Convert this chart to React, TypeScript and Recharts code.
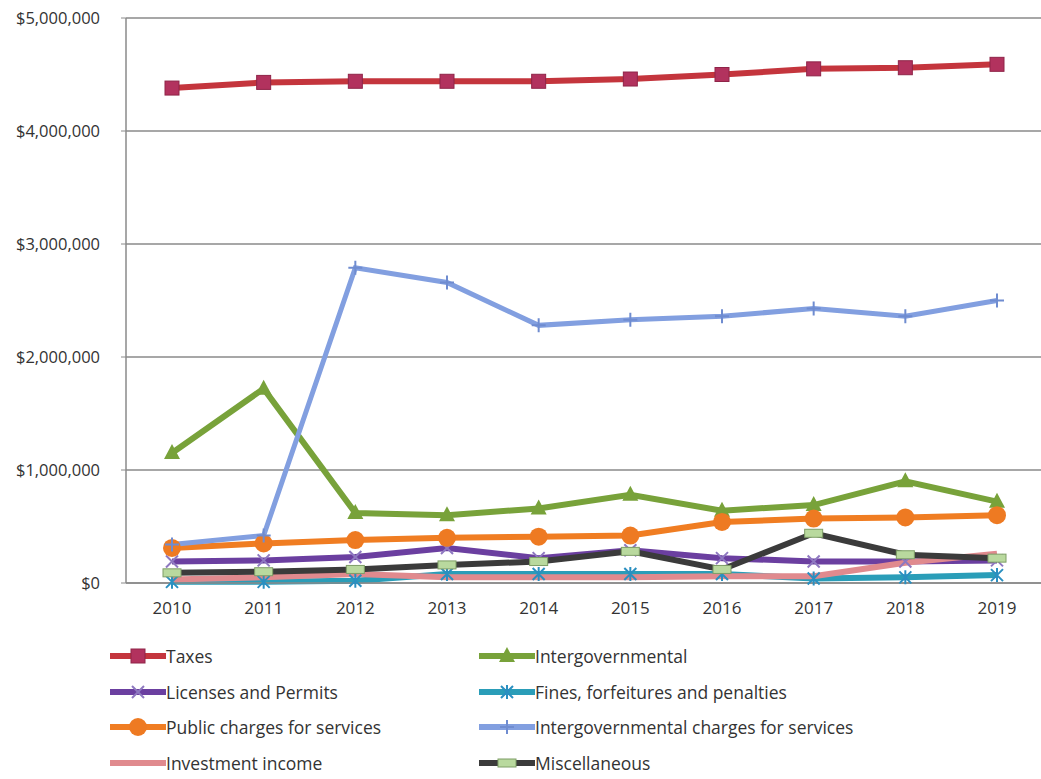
import { LineChart, Line, XAxis, YAxis, CartesianGrid } from 'recharts';

const years = ['2010', '2011', '2012', '2013', '2014', '2015', '2016', '2017', '2018', '2019'];
const taxes = [4380000, 4430000, 4440000, 4440000, 4440000, 4460000, 4500000, 4550000, 4560000, 4590000];
const intergovernmental = [1150000, 1720000, 620000, 600000, 660000, 780000, 640000, 690000, 900000, 720000];
const licenses = [190000, 200000, 230000, 310000, 220000, 290000, 220000, 190000, 190000, 200000];
const fines = [10000, 10000, 20000, 80000, 80000, 80000, 80000, 40000, 50000, 70000];
const publicCharges = [310000, 350000, 380000, 400000, 410000, 420000, 540000, 570000, 580000, 600000];
const intergovCharges = [340000, 420000, 2790000, 2660000, 2280000, 2330000, 2360000, 2430000, 2360000, 2500000];
const investment = [30000, 50000, 80000, 50000, 50000, 50000, 60000, 60000, 180000, 260000];
const misc = [90000, 100000, 120000, 160000, 190000, 280000, 120000, 440000, 250000, 220000];
const yTicks = [0, 1000000, 2000000, 3000000, 4000000, 5000000];

type MarkerKind = 'square' | 'triangle' | 'x' | 'star' | 'circle' | 'plus' | 'none' | 'bar';

interface SeriesDef {
  key: string;
  name: string;
  values: number[];
  color: string;
  marker: MarkerKind;
  markerFill: string;
  width: number;
}

const series: SeriesDef[] = [
  { key: 'taxes', name: 'Taxes', values: taxes, color: '#C4353D', marker: 'square', markerFill: '#B2325E', width: 6 },
  { key: 'intergov', name: 'Intergovernmental', values: intergovernmental, color: '#78A23A', marker: 'triangle', markerFill: '#78A23A', width: 6 },
  { key: 'licenses', name: 'Licenses and Permits', values: licenses, color: '#6B3FA0', marker: 'x', markerFill: '#8E78C0', width: 6 },
  { key: 'fines', name: 'Fines, forfeitures and penalties', values: fines, color: '#2A9DB8', marker: 'star', markerFill: '#2A8FC0', width: 6 },
  { key: 'public', name: 'Public charges for services', values: publicCharges, color: '#F07D22', marker: 'circle', markerFill: '#EE7A22', width: 6 },
  { key: 'igcharges', name: 'Intergovernmental charges for services', values: intergovCharges, color: '#829FE0', marker: 'plus', markerFill: '#6F8CD0', width: 5 },
  { key: 'investment', name: 'Investment income', values: investment, color: '#E08A8E', marker: 'none', markerFill: '#E08A8E', width: 6 },
  { key: 'misc', name: 'Miscellaneous', values: misc, color: '#3B3B3B', marker: 'bar', markerFill: '#B9D99E', width: 6 },
];

const data = years.map((year, i) => {
  const row: Record<string, string | number> = { year };
  series.forEach((s) => {
    row[s.key] = s.values[i];
  });
  return row;
});

function formatMoney(v: number) {
  return '$' + v.toLocaleString('en-US');
}

function Marker({ kind, cx, cy, fill }: { kind: MarkerKind; cx: number; cy: number; fill: string }) {
  switch (kind) {
    case 'square':
      return <rect x={cx - 7} y={cy - 7} width={14} height={14} fill={fill} stroke="#8F2448" strokeWidth={1} />;
    case 'triangle':
      return <polygon points={`${cx},${cy - 9} ${cx + 8},${cy + 6} ${cx - 8},${cy + 6}`} fill={fill} />;
    case 'x':
      return (
        <path d={`M${cx - 6},${cy - 6}L${cx + 6},${cy + 6}M${cx + 6},${cy - 6}L${cx - 6},${cy + 6}`} stroke={fill} strokeWidth={2} />
      );
    case 'star':
      return (
        <path
          d={`M${cx - 6},${cy - 6}L${cx + 6},${cy + 6}M${cx + 6},${cy - 6}L${cx - 6},${cy + 6}M${cx},${cy - 7}L${cx},${cy + 7}`}
          stroke={fill}
          strokeWidth={2}
        />
      );
    case 'circle':
      return <circle cx={cx} cy={cy} r={9} fill={fill} />;
    case 'plus':
      return <path d={`M${cx - 7},${cy}L${cx + 7},${cy}M${cx},${cy - 7}L${cx},${cy + 7}`} stroke={fill} strokeWidth={2} />;
    case 'bar':
      return <rect x={cx - 9} y={cy - 4} width={18} height={8} fill={fill} stroke="#7E9E66" strokeWidth={1} />;
    default:
      return null;
  }
}

function makeDot(s: SeriesDef) {
  if (s.marker === 'none') return false;
  return (props: any) => {
    const { cx, cy, index } = props;
    return (
      <g key={`${s.key}-${index}`}>
        <Marker kind={s.marker} cx={cx} cy={cy} fill={s.markerFill} />
      </g>
    );
  };
}

function LegendItem({ s }: { s: SeriesDef }) {
  return (
    <div style={{ display: 'flex', alignItems: 'center', height: 22 }}>
      <svg width={56} height={20} style={{ display: 'block' }}>
        <line x1={1} y1={10} x2={55} y2={10} stroke={s.color} strokeWidth={6} strokeLinecap="round" />
        <Marker kind={s.marker} cx={28} cy={10} fill={s.markerFill} />
      </svg>
      <span>{s.name}</span>
    </div>
  );
}

export default function App() {
  const left = series.filter((_, i) => i % 2 === 0);
  const right = series.filter((_, i) => i % 2 === 1);
  return (
    <div
      style={{
        position: 'absolute',
        left: 0,
        top: 0,
        width: 1041,
        height: 779,
        overflow: 'hidden',
        background: '#fff',
        fontFamily: 'Open Sans, sans-serif',
      }}
    >
      <LineChart width={1045} height={779} data={data} margin={{ top: 18, right: 2, bottom: 156, left: 0 }}>
        <CartesianGrid vertical={false} stroke="#8A8A8A" strokeWidth={1.5} />
        <XAxis
          dataKey="year"
          padding={{ left: 46, right: 46 }}
          tick={{ fontSize: 17, fill: '#333' }}
          tickLine={false}
          axisLine={{ stroke: '#8A8A8A', strokeWidth: 1.5 }}
          tickMargin={13}
          height={40}
        />
        <YAxis
          domain={[0, 5000000]}
          ticks={yTicks}
          tickFormatter={formatMoney}
          width={126}
          tick={{ fontSize: 16.5, fill: '#333' }}
          tickSize={5}
          tickMargin={21}
          tickLine={{ stroke: '#8A8A8A' }}
          axisLine={{ stroke: '#8A8A8A', strokeWidth: 1.5 }}
        />
        {series.map((s) => (
          <Line
            key={s.key}
            type="linear"
            dataKey={s.key}
            name={s.name}
            stroke={s.color}
            strokeWidth={s.width}
            dot={makeDot(s)}
            activeDot={false}
            isAnimationActive={false}
          />
        ))}
      </LineChart>
      <div style={{ position: 'absolute', left: 110, top: 645, fontSize: 17.5, color: '#333', display: 'flex', flexDirection: 'column', gap: 13.6 }}>
        {left.map((s) => (
          <LegendItem key={s.key} s={s} />
        ))}
      </div>
      <div style={{ position: 'absolute', left: 479, top: 645, fontSize: 17.5, color: '#333', display: 'flex', flexDirection: 'column', gap: 13.6 }}>
        {right.map((s) => (
          <LegendItem key={s.key} s={s} />
        ))}
      </div>
    </div>
  );
}
